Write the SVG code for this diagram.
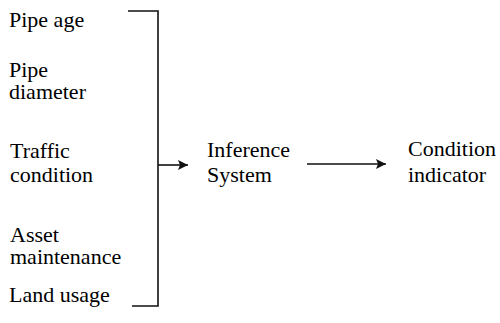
<svg xmlns="http://www.w3.org/2000/svg" width="500" height="323" viewBox="0 0 500 323">
<defs>
<marker id="ah" viewBox="0 0 10 10" refX="10" refY="5" markerWidth="11" markerHeight="10" markerUnits="userSpaceOnUse" orient="auto"><path d="M0,0 L10,5 L0,10 L2,5 Z" fill="#111"/></marker>
</defs>
<rect width="500" height="323" fill="#fff"/>
<g id="pipe-age"><text x="9" y="27" font-family="Liberation Serif" font-size="22">Pipe age</text></g>
<g id="pipe-diameter"><text x="9" y="77" font-family="Liberation Serif" font-size="22">Pipe</text><text x="9" y="99" font-family="Liberation Serif" font-size="22">diameter</text></g>
<g id="traffic-condition"><text x="10" y="158" font-family="Liberation Serif" font-size="22">Traffic</text><text x="10" y="182" font-family="Liberation Serif" font-size="22">condition</text></g>
<g id="asset-maintenance"><text x="10" y="242" font-family="Liberation Serif" font-size="22">Asset</text><text x="10" y="264" font-family="Liberation Serif" font-size="22">maintenance</text></g>
<g id="land-usage"><text x="9" y="302" font-family="Liberation Serif" font-size="22">Land usage</text></g>
<g id="inference-system"><text x="207" y="157" font-family="Liberation Serif" font-size="22">Inference</text><text x="207" y="182" font-family="Liberation Serif" font-size="22">System</text></g>
<g id="condition-indicator"><text x="408" y="156" font-family="Liberation Serif" font-size="22">Condition</text><text x="408" y="182" font-family="Liberation Serif" font-size="22">indicator</text></g>
<g id="connectors" stroke="#111" stroke-width="1.6" fill="none">
<path d="M128,11 H158 V306 H132"/>
<path d="M158,165 H188" marker-end="url(#ah)"/>
<path d="M307,164 H386" marker-end="url(#ah)"/>
</g>
</svg>
